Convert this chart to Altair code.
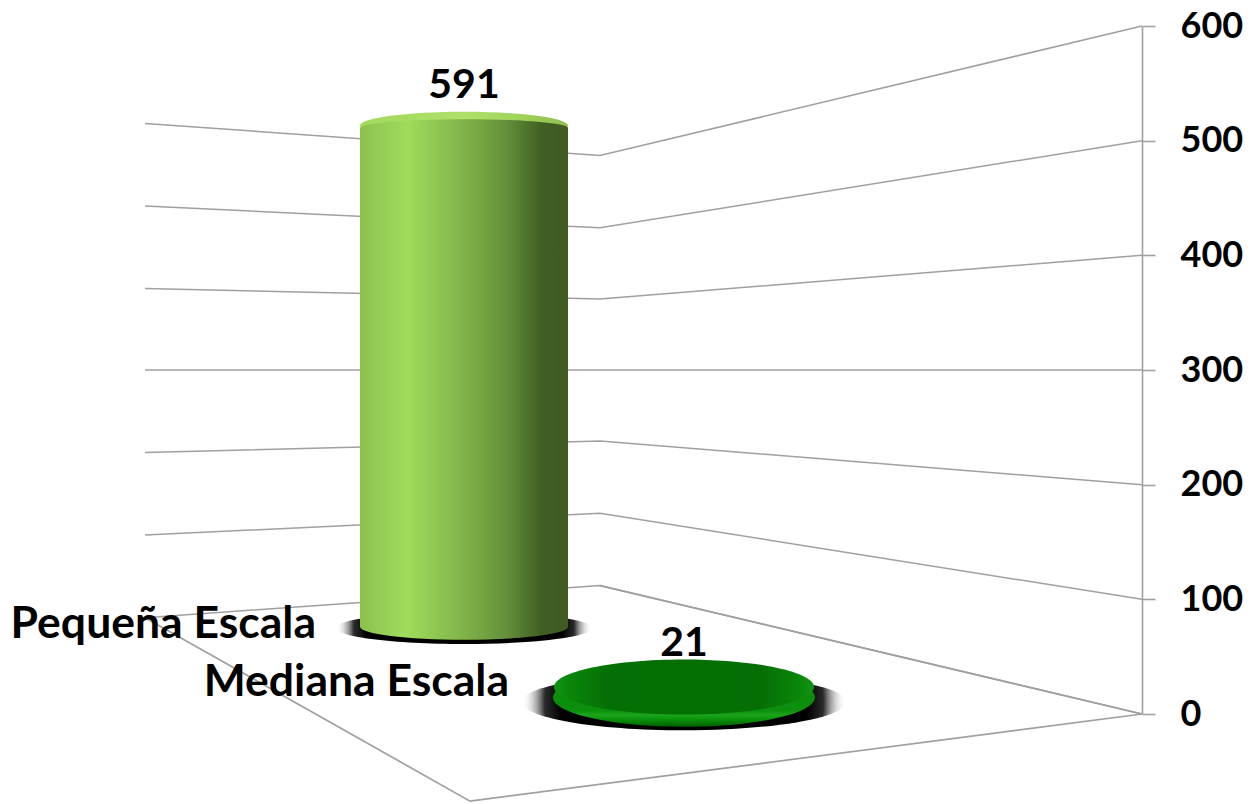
import altair as alt
import pandas as pd

# Category data
categories = ["Pequeña Escala", "Mediana Escala"]
values = [591, 21]
ticks = [0, 100, 200, 300, 400, 500, 600]

# Perspective: where each tick value lands, on the scale of the right-hand axis
left_end = [84, 156, 228, 300, 371, 443, 515]
back_corner = [112, 175, 238, 300, 362, 424, 487]
wall_x = [145, 600, 1142]
floor_x = [145, 470, 1142]
floor_y = [84, -76, 0]
floor2_x = [600, 1142]
floor2_y = [112, 0]

# Cylinders, projected onto the same scale
cyl_x = [464, 684]
cyl_half = [104, 131]
cyl_base = [76, 14.5]
cyl_top = [513, 23.5]
cyl_shoulder = 511

XS = alt.Scale(domain=[8, 1142], nice=False, zero=False)
YS = alt.Scale(domain=[0, 600], nice=False, zero=False)
GREY = "#a0a0a0"

Y_AXIS = alt.Axis(
    orient="right",
    values=ticks,
    grid=False,
    title=None,
    domainColor=GREY,
    domainWidth=1.6,
    tickColor=GREY,
    tickWidth=1.6,
    tickSize=13,
    labelPadding=25,
    labelFont="Lato",
    labelFontWeight="bold",
    labelFontSize=36,
    labelColor="#000000",
)


def X(name="x"):
    return alt.X(f"{name}:Q", scale=XS, axis=None)


def Y(name="y"):
    return alt.Y(f"{name}:Q", scale=YS, axis=Y_AXIS)


grid_rows = []
for i, t in enumerate(ticks):
    for xv, yv in zip(wall_x, [left_end[i], back_corner[i], t]):
        grid_rows.append({"t": t, "x": xv, "y": yv})
grid = pd.DataFrame(grid_rows)

grid_layer = alt.Chart(grid).mark_line(color=GREY, strokeWidth=1.5).encode(
    x=X(),
    y=Y(),
    detail="t:N",
)

floor1 = alt.Chart(pd.DataFrame({"x": floor_x, "y": floor_y})).mark_line(
    color=GREY, strokeWidth=1.7
).encode(x=X(), y=Y())
floor2 = alt.Chart(pd.DataFrame({"x": floor2_x, "y": floor2_y})).mark_line(
    color=GREY, strokeWidth=1.7
).encode(x=X(), y=Y())


def ellipse_path(k):
    return f"M-1,0A1,{k},0,1,1,1,0A1,{k},0,1,1,-1,0Z"


def ellipse(cx, cy, half, k, fill, **kw):
    return alt.Chart(pd.DataFrame({"x": [cx], "y": [cy]})).mark_point(
        shape=ellipse_path(k),
        size=(2 * half) ** 2,
        filled=True,
        fill=fill,
        fillOpacity=1,
        opacity=1,
        strokeWidth=0,
        **kw,
    ).encode(x=X(), y=Y())


def linear(stops, vertical=False):
    return alt.Gradient(
        gradient="linear",
        x1=0,
        y1=0,
        x2=0 if vertical else 1,
        y2=1 if vertical else 0,
        stops=[alt.GradientStop(offset=o, color=c) for o, c in stops],
    )


def radial(stops):
    return alt.Gradient(
        gradient="radial",
        x1=0.5,
        y1=0.5,
        r1=0,
        x2=0.5,
        y2=0.5,
        r2=0.5,
        stops=[alt.GradientStop(offset=o, color=c) for o, c in stops],
    )


shadow = radial([(0, "#000000"), (0.76, "#000000"), (0.86, "#2a2a2a"), (1, "rgba(255,255,255,0)")])

body_grad = linear([
    (0, "#8cc04f"),
    (0.22, "#9fdc5c"),
    (0.45, "#86bb4c"),
    (0.7, "#64913a"),
    (0.87, "#415f24"),
    (1, "#3f5a22"),
])
cap_grad = linear([(0, "#a2d95a"), (0.5, "#aee06a"), (0.8, "#a0d058"), (1, "#8fbf50")])

# Tall cylinder
tall_shadow = ellipse(cyl_x[0], cyl_base[0] - 1, 128, 0.125, shadow)
tall_bottom = ellipse(cyl_x[0], cyl_base[0], cyl_half[0], 0.125, body_grad)
tall_cap = ellipse(cyl_x[0], cyl_top[0], cyl_half[0], 0.135, cap_grad)
tall_rect = alt.Chart(
    pd.DataFrame(
        {"x": [cyl_x[0] - cyl_half[0]], "x2": [cyl_x[0] + cyl_half[0]], "y": [cyl_base[0]], "y2": [cyl_shoulder]}
    )
).mark_rect(fill=body_grad, strokeWidth=0).encode(x=X(), x2="x2:Q", y=Y(), y2="y2:Q")
tall_shoulder = ellipse(cyl_x[0], cyl_shoulder, cyl_half[0], 0.085, body_grad)

# Flat disc
disc_shadow = ellipse(cyl_x[1], cyl_base[1] - 4, 162, 0.175, shadow)
disc_base = ellipse(
    cyl_x[1],
    cyl_base[1],
    cyl_half[1],
    0.225,
    linear([(0, "#0a8a0a"), (0.72, "#0c8f0c"), (0.8, "#1ba51b"), (0.88, "#0a8f0a"), (1, "#005f00")], vertical=True),
)
disc_top = ellipse(
    cyl_x[1],
    cyl_top[1],
    cyl_half[1] - 1,
    0.212,
    radial([(0, "#037003"), (0.6, "#056f05"), (0.88, "#0a860a"), (1, "#119411")]),
)

# Value labels
label_df = pd.DataFrame(
    {"x": cyl_x, "y": [548, 61], "txt": [str(v) for v in values]}
)
value_labels = alt.Chart(label_df).mark_text(
    font="Lato", fontWeight="bold", fontSize=41, color="#000000", align="center", baseline="middle"
).encode(x=X(), y=Y(), text="txt:N")

cat_df = pd.DataFrame({"x": [316, 509], "y": [78, 27], "txt": categories})
cat_labels = alt.Chart(cat_df).mark_text(
    font="Lato", fontWeight="bold", fontSize=44.5, color="#000000", align="right", baseline="middle"
).encode(x=X(), y=Y(), text="txt:N")

chart = alt.layer(
    grid_layer,
    floor1,
    floor2,
    tall_shadow,
    tall_bottom,
    tall_cap,
    tall_shoulder,
    tall_rect,
    disc_shadow,
    disc_base,
    disc_top,
    value_labels,
    cat_labels,
).properties(
    width=1134,
    height=688,
    padding={"left": 0, "top": 18, "right": 102, "bottom": 89},
    autosize=alt.AutoSizeParams(type="none"),
    background="#ffffff",
).configure_view(stroke=None)

chart.save("out.html", embed_options={"renderer": "svg", "actions": False})
